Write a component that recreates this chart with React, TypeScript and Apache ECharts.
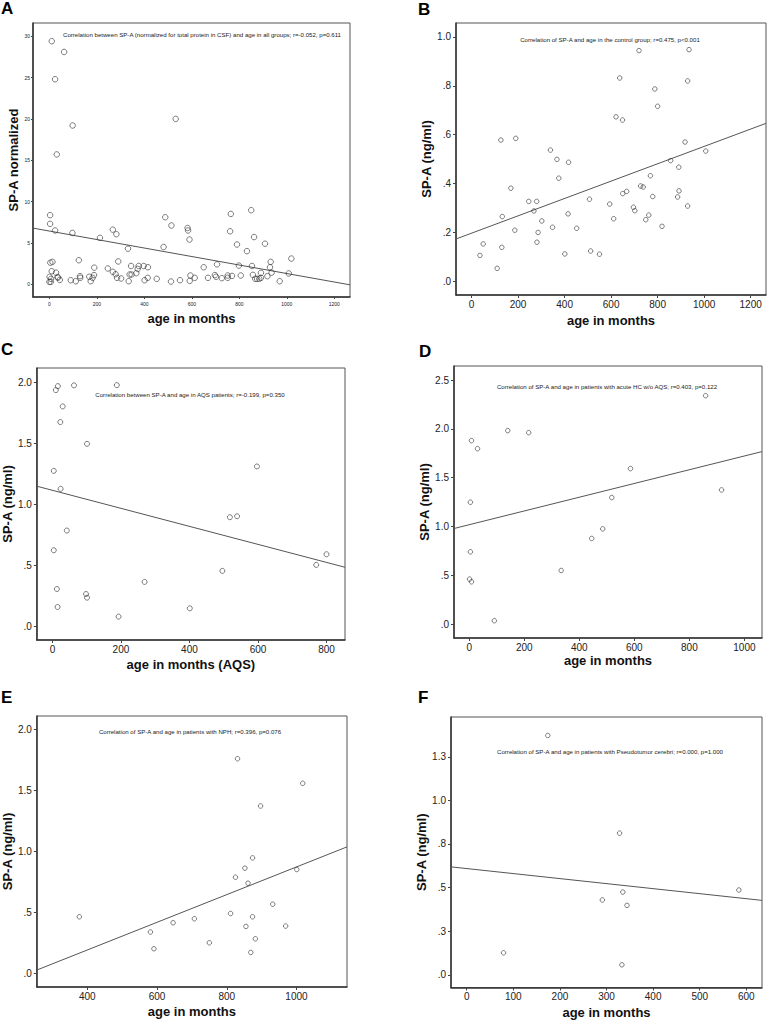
import React, { useEffect, useRef } from "react";
import * as echarts from "echarts";

const FONT = "'Liberation Sans', Arial, Helvetica, sans-serif";

// ---------- Panel A: SP-A normalized vs age, all groups ----------
const ageA = [10, 62, 24, 98, 31, 532, 3, 3, 24, 97, 213, 267, 282, 331, 488, 514, 582, 584, 590, 481, 764, 761, 790, 832, 850, 862, 908, 1019, 1008, 970, 932, 929, 936, 918, 891, 891, 884, 875, 867, 857, 853, 798, 806, 769, 751, 751, 726, 706, 697, 702, 668, 650, 612, 594, 591, 550, 512, 452, 415, 397, 414, 401, 376, 372, 366, 344, 346, 338, 334, 290, 302, 285, 279, 267, 246, 189, 188, 182, 174, 168, 129, 130, 124, 111, 90, 44, 34, 28, 10, 13, 4, 1, 7, 0, 6, 37];
const spaA = [29.4, 28.1, 24.8, 19.2, 15.7, 20.0, 8.35, 7.3, 6.5, 6.2, 5.6, 6.6, 6.05, 4.3, 8.1, 7.1, 6.8, 6.5, 5.4, 4.5, 8.5, 6.4, 4.8, 4.0, 8.95, 5.7, 4.9, 3.1, 1.3, 0.36, 2.7, 2.05, 1.4, 0.97, 1.37, 0.77, 0.65, 0.65, 0.65, 1.13, 2.2, 2.25, 1.05, 1.0, 1.05, 0.77, 0.73, 2.4, 1.1, 0.9, 0.77, 2.05, 0.77, 1.05, 0.4, 0.48, 0.32, 0.65, 2.05, 2.2, 0.77, 0.48, 2.2, 1.85, 1.33, 2.2, 1.17, 1.17, 0.36, 2.75, 0.69, 0.77, 1.21, 1.5, 1.9, 2.0, 1.1, 0.77, 0.36, 0.9, 0.97, 0.77, 2.9, 0.36, 0.48, 0.52, 0.85, 1.4, 1.57, 2.7, 2.6, 0.89, 0.65, 0.28, 0.28, 0.8];
const fitA = { intercept: 6.43, slope: -0.00514 };
const xTicksA = [0, 200, 400, 600, 800, 1000, 1200];
const yTicksA = [0, 5, 10, 15, 20, 25, 30];
const yLabelsA = ["0", "5", "10", "15", "20", "25", "30"];

// ---------- Panel B: control group ----------
const ageB = [36, 50, 110, 130, 132, 126, 190, 169, 186, 246, 268, 280, 281, 286, 302, 339, 348, 367, 375, 401, 417, 415, 452, 507, 512, 550, 594, 611, 621, 637, 649, 650, 667, 696, 702, 720, 727, 738, 749, 762, 769, 788, 800, 779, 819, 856, 886, 891, 892, 918, 929, 929, 935, 1007];
const spaB = [0.106, 0.153, 0.053, 0.139, 0.265, 0.578, 0.585, 0.381, 0.209, 0.327, 0.288, 0.327, 0.160, 0.200, 0.247, 0.537, 0.221, 0.499, 0.422, 0.112, 0.487, 0.276, 0.217, 0.336, 0.124, 0.111, 0.316, 0.256, 0.673, 0.832, 0.660, 0.359, 0.368, 0.303, 0.289, 0.944, 0.390, 0.386, 0.252, 0.271, 0.432, 0.787, 0.716, 0.347, 0.225, 0.494, 0.345, 0.467, 0.370, 0.570, 0.820, 0.308, 0.948, 0.533];
const fitB = { intercept: 0.197, slope: 0.000355 };
const xTicksB = [0, 200, 400, 600, 800, 1000, 1200];
const yTicksB = [0, 0.2, 0.4, 0.6, 0.8, 1.0];
const yLabelsB = [".0", ".2", ".4", ".6", ".8", "1.0"];

// ---------- Panel C: AQS patients ----------
const ageC = [16, 10, 63, 188, 30, 23, 101, 4, 24, 42, 4, 13, 15, 98, 101, 193, 269, 401, 496, 518, 539, 597, 770, 800];
const spaC = [1.967, 1.934, 1.973, 1.975, 1.801, 1.673, 1.495, 1.274, 1.127, 0.786, 0.625, 0.308, 0.161, 0.267, 0.237, 0.082, 0.366, 0.150, 0.456, 0.895, 0.903, 1.31, 0.505, 0.592];
const fitC = { intercept: 1.115, slope: -0.000737 };
const xTicksC = [0, 200, 400, 600, 800];
const yTicksC = [0, 0.5, 1.0, 1.5, 2.0];
const yLabelsC = [".0", ".5", "1.0", "1.5", "2.0"];

// ---------- Panel D: acute HC w/o AQS ----------
const ageD = [859, 140, 216, 8, 30, 586, 917, 518, 4, 485, 445, 4, 334, 1, 8, 91];
const spaD = [2.34, 1.982, 1.961, 1.879, 1.797, 1.593, 1.374, 1.296, 1.248, 0.975, 0.877, 0.740, 0.549, 0.460, 0.433, 0.034];
const fitD = { intercept: 1.018, slope: 0.000704 };
const xTicksD = [0, 200, 400, 600, 800, 1000];
const yTicksD = [0, 0.5, 1.0, 1.5, 2.0, 2.5];
const yLabelsD = [".0", ".5", "1.0", "1.5", "2.0", "2.5"];

// ---------- Panel E: NPH ----------
const ageE = [377, 581, 591, 646, 707, 750, 811, 825, 831, 852, 861, 855, 869, 874, 874, 882, 897, 932, 969, 1001, 1018];
const spaE = [0.466, 0.341, 0.204, 0.417, 0.450, 0.253, 0.493, 0.790, 1.760, 0.864, 0.741, 0.387, 0.174, 0.948, 0.466, 0.286, 1.373, 0.569, 0.390, 0.853, 1.559];
const fitE = { intercept: -0.259, slope: 0.001133 };
const xTicksE = [400, 600, 800, 1000];
const yTicksE = [0, 0.5, 1.0, 1.5, 2.0];
const yLabelsE = [".0", ".5", "1.0", "1.5", "2.0"];

// ---------- Panel F: Pseudotumor cerebri ----------
const ageF = [174, 328, 584, 335, 291, 344, 79, 333];
const spaF = [1.372, 0.812, 0.486, 0.474, 0.429, 0.398, 0.126, 0.057];
const fitF = { intercept: 0.609, slope: -0.000288 };
const xTicksF = [0, 100, 200, 300, 400, 500, 600];
const yTicksF = [0, 0.25, 0.5, 0.75, 1.0, 1.25];
const yLabelsF = [".0", ".3", ".5", ".8", "1.0", "1.3"];

const notes = [
  "Correlation between SP-A (normalized for total protein in CSF) and age in all groups; r=-0.052, p=0.611",
  "Correlation of SP-A and age in the control group; r=0.475, p<0.001",
  "Correlation between SP-A and age in AQS patients; r=-0.199, p=0.350",
  "Correlation of SP-A and age in patients with acute HC w/o AQS; r=0.403, p=0.122",
  "Correlation of SP-A and age in patients with NPH; r=0.396, p=0.076",
  "Correlation of SP-A and age in patients with Pseudotumor cerebri; r=0.000, p=1.000",
];
const letters = ["A", "B", "C", "D", "E", "F"];
const xTitles = ["age in months", "age in months", "age in months (AQS)", "age in months", "age in months", "age in months"];
const yTitles = ["SP-A normalized", "SP-A (ng/ml)", "SP-A (ng/ml)", "SP-A (ng/ml)", "SP-A (ng/ml)", "SP-A (ng/ml)"];

const data = [
  { age: ageA, spa: spaA, fit: fitA, xTicks: xTicksA, yTicks: yTicksA, yLabels: yLabelsA },
  { age: ageB, spa: spaB, fit: fitB, xTicks: xTicksB, yTicks: yTicksB, yLabels: yLabelsB },
  { age: ageC, spa: spaC, fit: fitC, xTicks: xTicksC, yTicks: yTicksC, yLabels: yLabelsC },
  { age: ageD, spa: spaD, fit: fitD, xTicks: xTicksD, yTicks: yTicksD, yLabels: yLabelsD },
  { age: ageE, spa: spaE, fit: fitE, xTicks: xTicksE, yTicks: yTicksE, yLabels: yLabelsE },
  { age: ageF, spa: spaF, fit: fitF, xTicks: xTicksF, yTicks: yTicksF, yLabels: yLabelsF },
];

// layout (pixels) and axis extents
const layout = [
  { grid: { left: 33, top: 23, width: 317, height: 274 }, x: [-69, 1266], y: [-1.55, 31.6], small: true, sym: 5.5, yGap: 13, xGap: 14.5, letter: [1, 8], note: [202, 34.3] },
  { grid: { left: 456, top: 23, width: 310, height: 272 }, x: [-67, 1266], y: [-0.056, 1.057], small: false, sym: 4.5, yGap: 21.5, xGap: 18.5, letter: [418, 9], note: [610, 39.3] },
  { grid: { left: 36, top: 368, width: 309, height: 272 }, x: [-45.6, 854], y: [-0.109, 2.115], small: false, sym: 5, yGap: 17, xGap: 17.5, letter: [1, 349], note: [190, 394.3] },
  { grid: { left: 454, top: 366, width: 308, height: 272 }, x: [-55.5, 1064], y: [-0.143, 2.644], small: false, sym: 4.5, yGap: 21.5, xGap: 15.5, letter: [419, 351], note: [607, 386.7] },
  { grid: { left: 36, top: 716, width: 311, height: 271 }, x: [255, 1145], y: [-0.109, 2.11], small: false, sym: 4.5, yGap: 21, xGap: 18, letter: [1, 697.5], note: [190, 731.7] },
  { grid: { left: 451, top: 717, width: 311, height: 271 }, x: [-33.7, 633.6], y: [-0.073, 1.478], small: false, sym: 4.5, yGap: 20, xGap: 18.5, letter: [418, 697.5], note: [610, 751.3] },
];

function labelFor(ticks: number[], labels: string[], v: number) {
  let best = 0;
  for (let i = 1; i < ticks.length; i++) {
    if (Math.abs(ticks[i] - v) < Math.abs(ticks[best] - v)) best = i;
  }
  return labels[best];
}

function buildOption() {
  const grid: any[] = [];
  const xAxis: any[] = [];
  const yAxis: any[] = [];
  const series: any[] = [];
  const graphic: any[] = [];
  const titleStyle = { fontFamily: FONT, fontWeight: "bold", fontSize: 13, color: "#111" };

  data.forEach((d, i) => {
    const L = layout[i];
    const tickFont = L.small ? 5 : 10;
    grid.push({ ...L.grid, show: true, borderColor: "#555", borderWidth: 1, backgroundColor: "transparent" });
    xAxis.push({
      type: "value", gridIndex: i, min: L.x[0], max: L.x[1],
      name: xTitles[i], nameLocation: "middle", nameGap: L.xGap, nameTextStyle: titleStyle,
      axisLine: { show: true, onZero: false, lineStyle: { color: "#333", width: 1.5 } },
      axisTick: { show: true, length: L.small ? 2 : 3, customValues: d.xTicks, lineStyle: { color: "#444" } },
      axisLabel: { customValues: d.xTicks, fontSize: tickFont, fontFamily: FONT, color: "#222", margin: 4, formatter: (v: number) => String(Math.round(v)) },
      splitLine: { show: false },
    });
    yAxis.push({
      type: "value", gridIndex: i, min: L.y[0], max: L.y[1],
      name: yTitles[i], nameLocation: "middle", nameGap: L.yGap, nameRotate: 90, nameTextStyle: titleStyle,
      axisLine: { show: true, onZero: false, lineStyle: { color: "#333", width: 1.5 } },
      axisTick: { show: true, length: L.small ? 2 : 3, customValues: d.yTicks, lineStyle: { color: "#444" } },
      axisLabel: { customValues: d.yTicks, fontSize: tickFont, fontFamily: FONT, color: "#222", margin: L.small ? 3 : 5, formatter: (v: number) => labelFor(d.yTicks, d.yLabels, v) },
      splitLine: { show: false },
    });
    series.push({
      type: "line", xAxisIndex: i, yAxisIndex: i, symbol: "none", silent: true,
      data: [L.x[0], L.x[1]].map((x) => [x, d.fit.intercept + d.fit.slope * x]),
      lineStyle: { color: "#555", width: 1 }, z: 1,
    });
    series.push({
      type: "scatter", xAxisIndex: i, yAxisIndex: i, symbol: "circle", symbolSize: L.sym, silent: true,
      data: d.age.map((a, j) => [a, d.spa[j]]),
      itemStyle: { color: "rgba(255,255,255,0)", borderColor: "#333", borderWidth: 0.8 }, z: 2,
    });
    graphic.push({
      type: "text", x: L.letter[0], y: L.letter[1],
      style: { text: letters[i], font: `bold 17px ${FONT}`, fill: "#000", textVerticalAlign: "middle", textAlign: "left" },
    });
    graphic.push({
      type: "text", x: L.note[0], y: L.note[1],
      style: { text: notes[i], font: `6.1px ${FONT}`, fill: "#222", textVerticalAlign: "middle", textAlign: "center" },
    });
  });

  return { animation: false, backgroundColor: "#fff", grid, xAxis, yAxis, series, graphic };
}

export default function App() {
  const ref = useRef<HTMLDivElement>(null);
  useEffect(() => {
    if (!ref.current) return;
    const chart = echarts.init(ref.current, undefined, { renderer: "svg" });
    chart.setOption(buildOption() as any);
    return () => chart.dispose();
  }, []);
  return (
    <div
      ref={ref}
      style={{ position: "absolute", left: 0, top: 0, width: 767, height: 1020, background: "#fff" }}
    />
  );
}
